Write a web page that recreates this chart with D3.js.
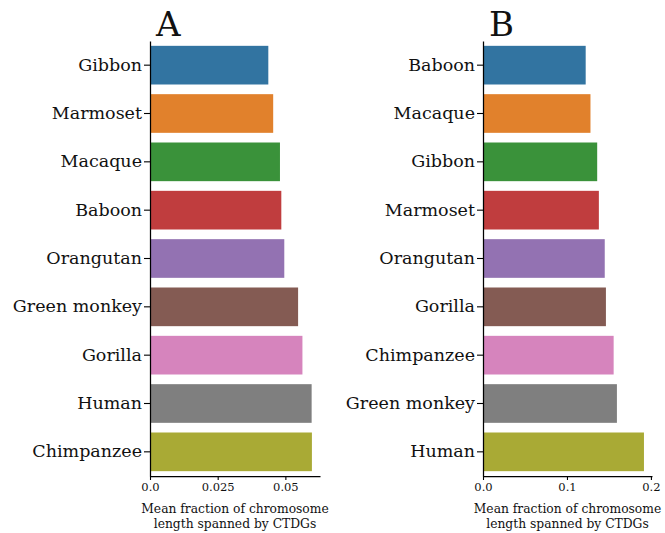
<!DOCTYPE html>
<html>
<head>
<meta charset="utf-8">
<script src="https://cdn.jsdelivr.net/npm/d3@7"></script>
<style>
  body { margin: 0; background: #fff; }
</style>
</head>
<body>
<svg id="chart" width="665" height="533"></svg>
<script>
// panel A: sorted ascending
const speciesA = ["Gibbon", "Marmoset", "Macaque", "Baboon", "Orangutan", "Green monkey", "Gorilla", "Human", "Chimpanzee"];
const valuesA = [0.0437, 0.0455, 0.0480, 0.0485, 0.0496, 0.0547, 0.0563, 0.0597, 0.0598];
const ticksA = [0, 0.025, 0.05];
const tickLabelsA = ["0.0", "0.025", "0.05"];

// panel B
const speciesB = ["Baboon", "Macaque", "Gibbon", "Marmoset", "Orangutan", "Gorilla", "Chimpanzee", "Green monkey", "Human"];
const valuesB = [0.1223, 0.1280, 0.1360, 0.1380, 0.1450, 0.1464, 0.1556, 0.1595, 0.1917];
const ticksB = [0, 0.1, 0.2];
const tickLabelsB = ["0.0", "0.1", "0.2"];

const barColors = ["#3274a1", "#e1812c", "#3a923a", "#c03d3e", "#9372b2", "#845b53", "#d684bd", "#7f7f7f", "#a9aa35"];
const xTitle = ["Mean fraction of chromosome", "length spanned by CTDGs"];

const serif = "DejaVu Serif";
const svg = d3.select("#chart");

function drawPanel(opts) {
    const {left, right, top, bottom, species, values, ticks, tickLabels, letter} = opts;

    const x = d3.scaleLinear()
        .domain([0, d3.max(values) * 1.05])
        .range([left, right]);

    const y = d3.scaleBand()
        .domain(species)
        .range([top, bottom])
        .paddingInner(0.2)
        .paddingOuter(0.1);

    const g = svg.append("g");

    g.selectAll("rect")
        .data(species)
        .enter().append("rect")
        .attr("x", x(0))
        .attr("y", d => y(d))
        .attr("width", (d, i) => x(values[i]) - x(0))
        .attr("height", y.bandwidth())
        .attr("fill", (d, i) => barColors[i]);

    const yAxis = g.append("g")
        .attr("transform", "translate(" + left + ",0)")
        .call(d3.axisLeft(y).tickSize(6).tickPadding(2).tickSizeOuter(0));
    yAxis.attr("font-family", serif).attr("font-size", 17.5);
    yAxis.select(".domain").attr("stroke", "#000").attr("stroke-width", 1.25);
    yAxis.selectAll(".tick line").attr("stroke", "#000").attr("stroke-width", 1.1);
    yAxis.selectAll(".tick text").attr("fill", "#111");

    const xAxis = g.append("g")
        .attr("transform", "translate(0," + bottom + ")")
        .call(d3.axisBottom(x).tickValues(ticks).tickFormat((d, i) => tickLabels[i]).tickSize(4).tickPadding(3).tickSizeOuter(0));
    xAxis.attr("font-family", serif).attr("font-size", 11.5);
    xAxis.select(".domain").attr("stroke", "#000").attr("stroke-width", 1.25);
    xAxis.selectAll(".tick line").attr("stroke", "#000").attr("stroke-width", 1.1);
    xAxis.selectAll(".tick text").attr("fill", "#111");

    const cx = (left + right) / 2;
    g.selectAll(".xtitle")
        .data(xTitle)
        .enter().append("text")
        .attr("class", "xtitle")
        .attr("x", cx)
        .attr("y", (d, i) => 513 + i * 14.5)
        .attr("text-anchor", "middle")
        .attr("font-family", serif)
        .attr("font-size", 12.3)
        .attr("fill", "#111")
        .text(d => d);

    g.append("text")
        .attr("x", left + 6)
        .attr("y", 36)
        .attr("font-family", serif)
        .attr("font-size", 34)
        .attr("fill", "#111")
        .text(letter);
}

drawPanel({left: 150, right: 320, top: 41, bottom: 476,
    species: speciesA, values: valuesA, ticks: ticksA, tickLabels: tickLabelsA, letter: "A"});
drawPanel({left: 483, right: 652, top: 41, bottom: 476,
    species: speciesB, values: valuesB, ticks: ticksB, tickLabels: tickLabelsB, letter: "B"});
</script>
</body>
</html>
